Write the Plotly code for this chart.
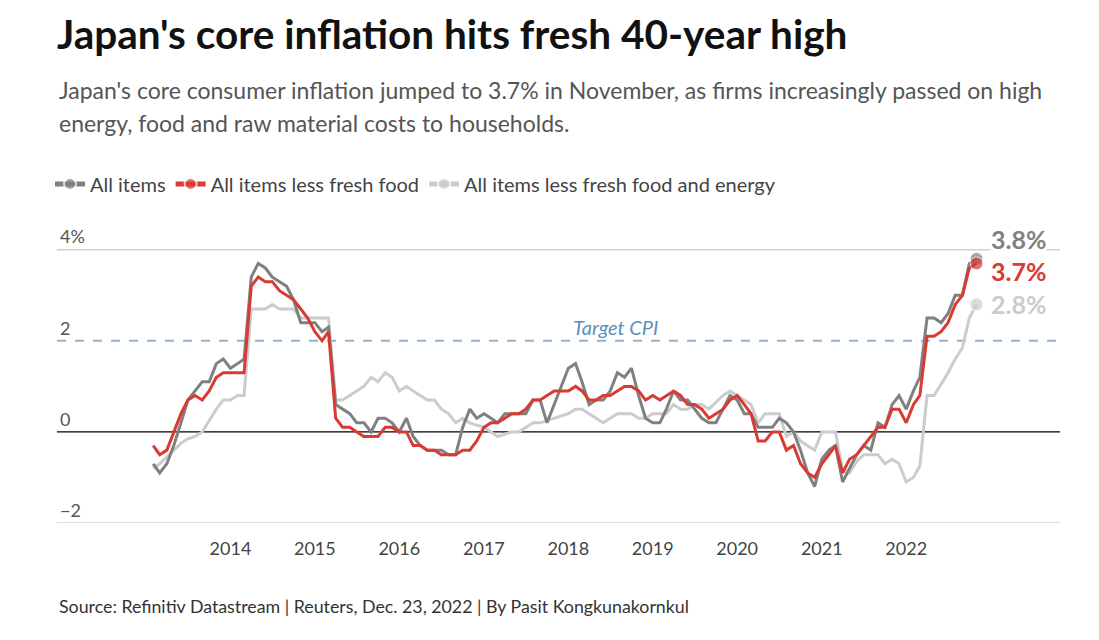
import plotly.graph_objects as go
import pandas as pd

# ---- data (monthly y/y %, Feb 2013 - Nov 2022) ----
start_month = "2013-02-01"
end_month = "2022-11-01"

all_items = [
    -0.7, -0.9, -0.7, -0.3, 0.2, 0.7, 0.9, 1.1, 1.1, 1.5, 1.6,
    1.4, 1.5, 1.6, 3.4, 3.7, 3.6, 3.4, 3.3, 3.2, 2.9, 2.4, 2.4,
    2.4, 2.2, 2.3, 0.6, 0.5, 0.4, 0.2, 0.2, 0.0, 0.3, 0.3, 0.2,
    0.0, 0.3, -0.1, -0.3, -0.4, -0.4, -0.4, -0.5, -0.5, 0.1, 0.5, 0.3,
    0.4, 0.3, 0.2, 0.4, 0.4, 0.4, 0.4, 0.7, 0.7, 0.2, 0.6, 1.0,
    1.4, 1.5, 1.1, 0.6, 0.7, 0.7, 0.9, 1.3, 1.2, 1.4, 0.8, 0.3,
    0.2, 0.2, 0.5, 0.9, 0.7, 0.7, 0.5, 0.3, 0.2, 0.2, 0.5, 0.8,
    0.7, 0.4, 0.4, 0.1, 0.1, 0.1, 0.3, 0.2, 0.0, -0.4, -0.9, -1.2,
    -0.6, -0.4, -0.3, -1.1, -0.8, -0.5, -0.3, -0.4, 0.2, 0.1, 0.6, 0.8,
    0.5, 0.9, 1.2, 2.5, 2.5, 2.4, 2.6, 3.0, 3.0, 3.7, 3.8,
]

less_fresh_food = [
    -0.3, -0.5, -0.4, 0.0, 0.4, 0.7, 0.8, 0.7, 0.9, 1.2, 1.3,
    1.3, 1.3, 1.3, 3.2, 3.4, 3.3, 3.3, 3.1, 3.0, 2.9, 2.7, 2.5,
    2.2, 2.0, 2.2, 0.3, 0.1, 0.1, 0.0, -0.1, -0.1, -0.1, 0.1, 0.1,
    0.0, 0.0, -0.3, -0.3, -0.4, -0.4, -0.5, -0.5, -0.5, -0.4, -0.4, -0.2,
    0.1, 0.2, 0.2, 0.3, 0.4, 0.4, 0.5, 0.7, 0.7, 0.8, 0.9, 0.9,
    0.9, 1.0, 0.9, 0.7, 0.7, 0.8, 0.8, 0.9, 1.0, 1.0, 0.9, 0.7,
    0.8, 0.7, 0.8, 0.9, 0.8, 0.6, 0.6, 0.5, 0.3, 0.4, 0.5, 0.7,
    0.8, 0.6, 0.4, -0.2, -0.2, 0.0, 0.0, -0.4, -0.3, -0.7, -0.9, -1.0,
    -0.7, -0.5, -0.3, -0.9, -0.6, -0.5, -0.3, -0.1, 0.1, 0.1, 0.5, 0.5,
    0.2, 0.6, 0.8, 2.1, 2.1, 2.2, 2.4, 2.8, 3.0, 3.6, 3.7,
]

less_food_energy = [
    -0.8, -0.7, -0.55, -0.4, -0.25, -0.15, -0.1, 0.0, 0.25, 0.5, 0.7,
    0.7, 0.8, 0.8, 2.7, 2.7, 2.7, 2.8, 2.7, 2.7, 2.7, 2.5, 2.5,
    2.5, 2.5, 2.5, 0.7, 0.7, 0.8, 0.9, 1.0, 1.2, 1.1, 1.3, 1.2,
    0.9, 1.0, 0.9, 0.8, 0.7, 0.7, 0.5, 0.4, 0.2, 0.3, 0.2, 0.15,
    0.1, 0.0, -0.1, -0.05, 0.0, 0.0, 0.1, 0.2, 0.2, 0.25, 0.3, 0.35,
    0.4, 0.5, 0.5, 0.4, 0.3, 0.2, 0.3, 0.4, 0.4, 0.4, 0.3, 0.3,
    0.4, 0.4, 0.4, 0.6, 0.5, 0.5, 0.6, 0.6, 0.5, 0.65, 0.8, 0.9,
    0.8, 0.7, 0.6, 0.2, 0.4, 0.4, 0.4, -0.1, 0.0, -0.2, -0.3, -0.4,
    0.0, 0.0, 0.0, -0.85, -0.9, -0.65, -0.5, -0.5, -0.5, -0.7, -0.6, -0.7,
    -1.1, -1.0, -0.75, 0.8, 0.8, 1.05, 1.3, 1.6, 1.85, 2.5, 2.8,
]

series_names = ["All items", "All items less fresh food",
                "All items less fresh food and energy"]
year_labels = ["2014", "2015", "2016", "2017", "2018", "2019", "2020", "2021", "2022"]
y_ticks = [-2, 0, 2, 4]
y_tick_text = ["\u22122", "0", "2", "4%"]
grid_levels = [-2, 4]
target_cpi = 2

title_text = "Japan's core inflation hits fresh 40-year high"
subtitle_lines = [
    "Japan's core consumer inflation jumped to 3.7% in November, as firms increasingly passed on high",
    "energy, food and raw material costs to households.",
]
source_text = "Source: Refinitiv Datastream | Reuters, Dec. 23, 2022 | By Pasit Kongkunakornkul"

# ---- styling ----
GRAY = "#808080"
RED = "#d93a32"
LIGHT = "#cccccc"
FONT = "Lato, 'Source Sans Pro', sans-serif"

dates = pd.date_range(start_month, end_month, freq="MS")
n = len(dates)

fig = go.Figure()

# gridlines (drawn as shapes so the target line is not covered)
for g in grid_levels:
    fig.add_shape(type="line", xref="paper", yref="y", x0=0, x1=1, y0=g, y1=g,
                  line=dict(color="#d0d0d0", width=1.5), layer="below")
# target line
fig.add_shape(type="line", xref="paper", yref="y", x0=0, x1=1,
              y0=target_cpi, y1=target_cpi,
              line=dict(color="#8db4d6", width=2, dash="dash"), layer="below")
# zero line
fig.add_shape(type="line", xref="paper", yref="y", x0=0, x1=1, y0=0, y1=0,
              line=dict(color="black", width=1.2), layer="below")

series = [
    (less_food_energy, series_names[2], LIGHT, 3),
    (all_items, series_names[0], GRAY, 1),
    (less_fresh_food, series_names[1], RED, 2),
]
for vals, name, color, rank in series:
    sizes = [0] * (n - 1) + [13]
    fig.add_trace(go.Scatter(
        x=dates, y=vals, name=name, mode="lines+markers",
        line=dict(color=color, width=3),
        marker=dict(color=color, size=sizes),
        legendrank=rank, hoverinfo="skip",
    ))

# end labels
label_shift = {series_names[0]: 19.5, series_names[1]: -7.5, series_names[2]: 0}
for vals, name, color, rank in series:
    fig.add_annotation(
        x=dates[-1], y=vals[-1], xref="x", yref="y",
        text=f"<b>{vals[-1]:.1f}%</b>", showarrow=False,
        xanchor="left", yanchor="middle", xshift=13, yshift=label_shift[name],
        font=dict(family=FONT, size=25, color=color),
        bgcolor="white", borderpad=0,
    )

fig.add_annotation(x=0.557, y=target_cpi, xref="paper", yref="y",
                   text="<i>Target CPI</i>", showarrow=False, yshift=14,
                   font=dict(family=FONT, size=20, color="#5b8fbe"))

# subtitle and source
for line, ypos in zip(subtitle_lines, [1.4628, 1.3514]):
    fig.add_annotation(x=0, y=ypos, xref="paper", yref="paper", xanchor="left",
                       yanchor="middle", showarrow=False, align="left",
                       text=line, font=dict(family=FONT, size=23, color="#555555"))
fig.add_annotation(x=0, y=-0.28, xref="paper", yref="paper", xanchor="left",
                   yanchor="middle", showarrow=False, text=source_text,
                   font=dict(family=FONT, size=17.8, color="#333333"))

fig.update_layout(
    width=1099, height=640,
    margin=dict(l=57, r=39, t=227, b=117),
    paper_bgcolor="white", plot_bgcolor="white",
    title=dict(text=f"<b>{title_text}</b>",
               x=57 / 1099, xanchor="left", y=1 - 35 / 640, yanchor="middle",
               font=dict(family=FONT, size=40.5, color="#111111")),
    legend=dict(orientation="h", x=-0.007, xanchor="left", y=1.145, yanchor="middle",
                font=dict(family=FONT, size=20, color="#444444"),
                itemsizing="constant", itemwidth=30, traceorder="normal"),
    showlegend=True,
)
fig.update_xaxes(type="date", range=["2011-12-13", "2023-10-28"],
                 tickvals=[f"{y}-01-01" for y in year_labels], ticktext=year_labels,
                 showgrid=False, showline=False, zeroline=False, ticks="",
                 ticklabelstandoff=13,
                 tickfont=dict(family=FONT, size=18, color="#444444"))
fig.update_yaxes(range=[-2, 4.5], tickvals=y_ticks, ticktext=y_tick_text,
                 showgrid=False, zeroline=False, showline=False, ticks="",
                 ticklabelposition="inside top", ticklabeloverflow="allow",
                 tickfont=dict(family=FONT, size=18, color="#555555"))

fig.write_html("out.html", config={"displayModeBar": False},
               post_script="document.body.style.margin='0';")
